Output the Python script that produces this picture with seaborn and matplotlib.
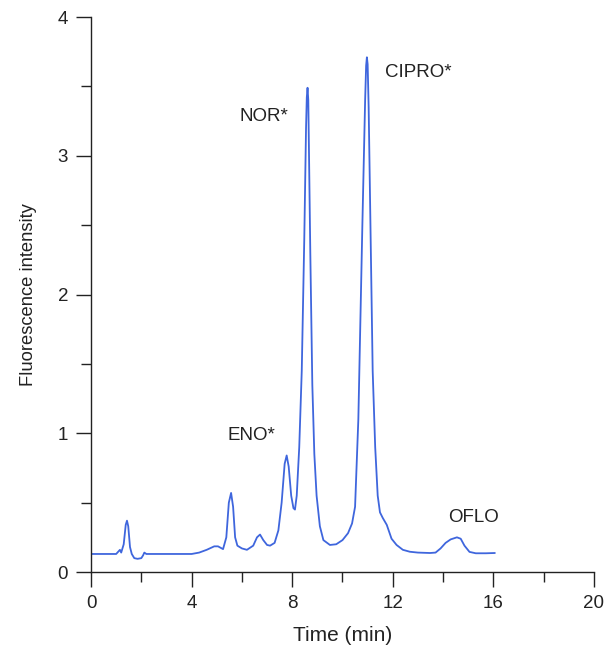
import numpy as np
import matplotlib
matplotlib.use("Agg")
import matplotlib.pyplot as plt
import pandas as pd
import seaborn as sns
from matplotlib.ticker import MultipleLocator

# chromatogram trace: time (min), fluorescence intensity
time_min = [
    0.0, 0.5, 1.0, 1.1, 1.15, 1.2, 1.3, 1.38, 1.43, 1.48, 1.55, 1.62, 1.72, 1.85,
    2.0, 2.07, 2.12, 2.2, 3.0, 4.0, 4.3, 4.6, 4.9, 5.05, 5.25, 5.38, 5.48, 5.57,
    5.65, 5.73, 5.82, 6.0, 6.2, 6.45, 6.6, 6.72, 6.85, 7.0, 7.12, 7.3, 7.45, 7.58,
    7.7, 7.78, 7.86, 7.96, 8.05, 8.11, 8.18, 8.28, 8.38, 8.48, 8.55, 8.58, 8.61, 8.64,
    8.72, 8.8, 8.88, 8.97, 9.1, 9.24, 9.5, 9.75, 10.0, 10.22, 10.38, 10.5, 10.63,
    10.79, 10.9, 10.94, 10.97, 11.0, 11.04, 11.12, 11.2, 11.3, 11.4, 11.49, 11.6, 11.76, 11.95,
    12.15, 12.4, 12.68, 13.0, 13.48, 13.7, 13.9, 14.1, 14.3, 14.55, 14.7, 14.85,
    15.05, 15.3, 15.7, 16.06,
]
intensity = [
    0.13, 0.13, 0.13, 0.15, 0.16, 0.14, 0.20, 0.34, 0.37, 0.33, 0.18, 0.13, 0.10, 0.095,
    0.10, 0.12, 0.14, 0.13, 0.13, 0.13, 0.14, 0.16, 0.185, 0.185, 0.165, 0.25, 0.50, 0.57,
    0.47, 0.25, 0.19, 0.17, 0.16, 0.19, 0.25, 0.27, 0.23, 0.195, 0.19, 0.21, 0.30, 0.50,
    0.78, 0.84, 0.76, 0.55, 0.46, 0.45, 0.55, 0.90, 1.45, 2.4, 3.2, 3.42, 3.49, 3.4,
    2.3, 1.35, 0.85, 0.55, 0.33, 0.23, 0.195, 0.20, 0.23, 0.28, 0.35, 0.47, 1.1,
    2.5, 3.4, 3.65, 3.71, 3.66, 3.35, 2.4, 1.45, 0.9, 0.55, 0.43, 0.39, 0.34, 0.24,
    0.195, 0.16, 0.146, 0.14, 0.137, 0.14, 0.17, 0.21, 0.235, 0.25, 0.24, 0.19,
    0.145, 0.135, 0.135, 0.137,
]

# peak labels
peak_names = ["NOR*", "CIPRO*", "ENO*", "OFLO"]
peak_label_t = [6.86, 13.02, 6.39, 15.2]
peak_label_y = [3.28, 3.6, 0.985, 0.393]

df = pd.DataFrame({"time": time_min, "intensity": intensity})

sns.set_style("ticks")
plt.rcParams["font.family"] = ["Liberation Sans", "DejaVu Sans"]

fig = plt.figure(figsize=(6.04, 6.47), dpi=100)
ax = fig.add_axes([0.1507, 0.1159, 0.8327, 0.8578])

sns.lineplot(data=df, x="time", y="intensity", estimator=None, sort=False,
             color="#3f66dd", linewidth=1.3, ax=ax)

for name, tx, ty in zip(peak_names, peak_label_t, peak_label_y):
    ax.text(tx, ty, name, ha="center", va="center", fontsize=13.5, color="#222222")

ax.set_xlim(0, 20)
ax.set_ylim(0, 4)
ax.xaxis.set_major_locator(MultipleLocator(4))
ax.xaxis.set_minor_locator(MultipleLocator(2))
ax.yaxis.set_major_locator(MultipleLocator(1))
ax.yaxis.set_minor_locator(MultipleLocator(0.5))

for side in ["top", "right"]:
    ax.spines[side].set_visible(False)
for side in ["left", "bottom"]:
    ax.spines[side].set_color("#222222")
    ax.spines[side].set_linewidth(1.0)

ax.tick_params(which="major", length=10.5, width=1.0, color="#222222",
               labelsize=13.5, labelcolor="#222222", direction="out")
ax.tick_params(which="minor", length=7, width=1.0, color="#222222", direction="out")
ax.tick_params(axis="y", pad=6)
ax.tick_params(axis="x", pad=6)

ax.set_xlabel("Time (min)", fontsize=15, color="#222222", labelpad=10)
ax.set_ylabel("Fluorescence intensity", fontsize=13.2, color="#222222", labelpad=15)

fig.savefig("out.png", dpi=100)
